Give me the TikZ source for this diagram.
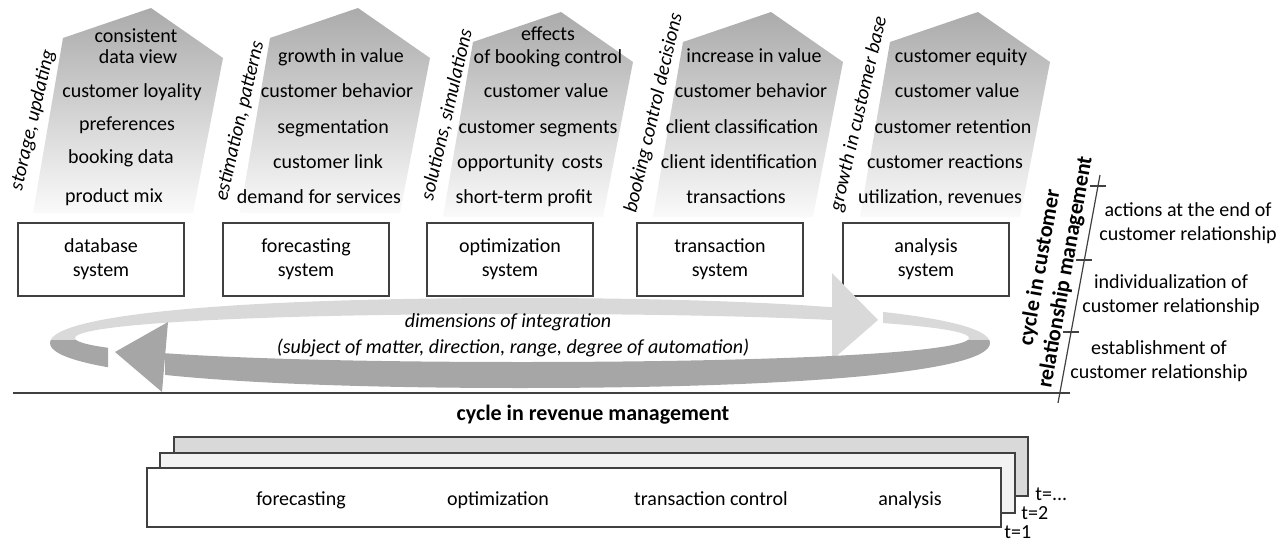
\documentclass[tikz,border=0pt]{standalone}
\usepackage{fontspec}
\setmainfont{Carlito}
\usetikzlibrary{calc}
\tikzset{sysbox/.style={draw=black!75,line width=0.65pt,minimum width=83pt,minimum height=36.5pt,align=center,inner sep=0pt}}
\tikzset{featlbl/.style={inner sep=0pt,text height=7pt,text depth=2pt}}
\tikzset{slantlbl/.style={rotate=77,font=\itshape,inner sep=0pt}}
\tikzset{boldlbl/.style={font=\fontsize{11}{13}\selectfont\bfseries,inner sep=0pt}}
\tikzset{pentfill/.style={top color=black!33,bottom color=black!2}}
\tikzset{axisline/.style={draw=black!75,line width=0.6pt}}
\definecolor{ringback}{gray}{0.85}
\definecolor{ringfront}{gray}{0.65}

\begin{document}
\begin{tikzpicture}[x=0.5pt,y=-0.5pt]
  \useasboundingbox (0,0) rectangle (1287,541);

  % shaded pentagons
  \shade[pentfill] (63,38)  -- ++(88,-30) -- ++(72,50) -- ++(-30,155) -- ++(-160,0) -- cycle;
  \shade[pentfill] (270,38) -- ++(88,-30) -- ++(72,50) -- ++(-30,155) -- ++(-160,0) -- cycle;
  \shade[pentfill] (473,42) -- ++(88,-30) -- ++(72,50) -- ++(-30,155) -- ++(-160,0) -- cycle;
  \shade[pentfill] (683,42) -- ++(88,-30) -- ++(72,50) -- ++(-30,155) -- ++(-160,0) -- cycle;
  \shade[pentfill] (890,42) -- ++(88,-30) -- ++(72,50) -- ++(-30,155) -- ++(-160,0) -- cycle;

  \node [slantlbl] (store)  at (33,120)  {storage, updating};
  \node [slantlbl] (estim)  at (240,121) {estimation, patterns};
  \node [slantlbl] (simul)  at (447,115) {solutions, simulations};
  \node [slantlbl] (decide) at (654,113) {booking control decisions};
  \node [slantlbl] (growth) at (859,114) {growth in customer base};

  \node [featlbl] (dbA) at (136,37)  {consistent};
  \node [featlbl] (dbB) at (138,58)  {data view};
  \node [featlbl] (dbC) at (132,92)  {customer loyality};
  \node [featlbl] (dbD) at (127,125) {preferences};
  \node [featlbl] (dbE) at (121,158) {booking data};
  \node [featlbl] (dbF) at (114,197) {product mix};

  \node [featlbl] (fcA) at (341,57)  {growth in value};
  \node [featlbl] (fcB) at (337,92)  {customer behavior};
  \node [featlbl] (fcC) at (333,128) {segmentation};
  \node [featlbl] (fcD) at (328,163) {customer link};
  \node [featlbl] (fcE) at (319,198) {demand for services};

  \node [featlbl] (opA) at (548,35)  {effects};
  \node [featlbl] (opB) at (548,58)  {of booking control};
  \node [featlbl] (opC) at (546,92)  {customer value};
  \node [featlbl] (opD) at (538,128) {customer segments};
  \node [featlbl] (opE) at (530,163) {opportunity\, costs};
  \node [featlbl] (opF) at (524,198) {short-term profit};

  \node [featlbl] (trA) at (754,57)  {increase in value};
  \node [featlbl] (trB) at (751,92)  {customer behavior};
  \node [featlbl] (trC) at (742,128) {client classification};
  \node [featlbl] (trD) at (739,163) {client identification};
  \node [featlbl] (trE) at (736,198) {transactions};

  \node [featlbl] (anA) at (961,57)  {customer equity};
  \node [featlbl] (anB) at (957,92)  {customer value};
  \node [featlbl] (anC) at (953,128) {customer retention};
  \node [featlbl] (anD) at (945,163) {customer reactions};
  \node [featlbl] (anE) at (940,198) {utilization, revenues};

  % systems
  \node [sysbox] (dbsys) at (101,259.5) {database\\system};
  \node [sysbox] (fcsys) at (306,259.5) {forecasting\\system};
  \node [sysbox] (opsys) at (510,259.5) {optimization\\system};
  \node [sysbox] (trsys) at (720,259.5) {transaction\\system};
  \node [sysbox] (ansys) at (926,259.5) {analysis\\system};

  % ring of integration (outer and inner rim)
  \def\ringpath{(990,343) .. controls (990,371) and (811,388) .. (520,388)
                          .. controls (229,388) and (50,371) .. (50,343)
                          .. controls (50,315) and (229,298) .. (520,298)
                          .. controls (811,298) and (990,315) .. (990,343) -- cycle
                (969,338) .. controls (969,352) and (790,362) .. (522,362)
                          .. controls (254,362) and (75,352) .. (75,338)
                          .. controls (75,324) and (254,314) .. (522,314)
                          .. controls (790,314) and (969,324) .. (969,338) -- cycle}
  \begin{scope}
    \clip (0,0) rectangle (832,340) (883,0) rectangle (1100,340);
    \fill [ringback,even odd rule] \ringpath;
  \end{scope}
  \fill [ringback] (832,273) -- (878,320) -- (832,360) -- cycle;
  \begin{scope}
    \clip (0,340) rectangle (108,450) (165,340) rectangle (1100,450);
    \fill [ringfront,even odd rule] \ringpath;
  \end{scope}
  \fill [ringfront] (168,322) -- (115,352) -- (162,392) -- cycle;

  \node [featlbl,font=\itshape] (dimint)  at (508,322) {dimensions of integration};
  \node [featlbl,font=\itshape] (dimlist) at (513,348) {(subject of matter, direction, range, degree of automation)};

  % crm axis
  \coordinate (baseL) at (13,393);
  \coordinate (baseR) at (1070,393);
  \coordinate (axbot) at (1058,403);
  \coordinate (axtop) at (1100,175);
  \draw [axisline] (baseL) -- (baseR);
  \draw [axisline] (axbot) -- (axtop);
  \draw [axisline] ($(axbot)!0.311!(axtop)$) ++(-8,0) -- ++(16,0);
  \draw [axisline] ($(axbot)!0.627!(axtop)$) ++(-8,0) -- ++(16,0);
  \draw [axisline] ($(axbot)!0.952!(axtop)$) ++(-8,0) -- ++(16,0);

  \node [boldlbl,rotate=80,align=center] (crmcycle) at (1053,270)
        {cycle in customer\\relationship management};
  \node [align=center,inner sep=0pt] (crmend)   at (1188,223) {actions at the end of\\customer relationship};
  \node [align=center,inner sep=0pt] (crmindiv) at (1171,295) {individualization of\\customer relationship};
  \node [align=center,inner sep=0pt] (crmstart) at (1159,361) {establishment of\\customer relationship};

  % revenue management cycle
  \node [boldlbl,text height=7.5pt,text depth=2pt] (rmcycle) at (593,415) {cycle in revenue management};
  \filldraw [axisline,fill=black!15] (174,437) rectangle (1028,496);
  \filldraw [axisline,fill=black!5]  (160,453) rectangle (1015,513);
  \filldraw [axisline,fill=white]    (147,468) rectangle (1001,527);
  \node [featlbl] (rmfc) at (301,500) {forecasting};
  \node [featlbl] (rmop) at (498,500) {optimization};
  \node [featlbl] (rmtr) at (711,500) {transaction control};
  \node [featlbl] (rman) at (910,500) {analysis};
  \node [featlbl,anchor=west] (tdots) at (1035,495) {t=...};
  \node [featlbl,anchor=west] (ttwo)  at (1021,514) {t=2};
  \node [featlbl,anchor=west] (tone)  at (1004,533) {t=1};
\end{tikzpicture}
\end{document}
